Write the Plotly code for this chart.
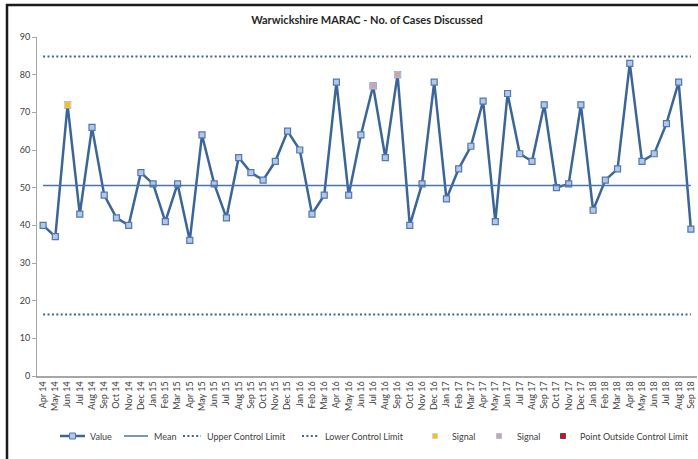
import plotly.graph_objects as go

months = ["Apr 14","May 14","Jun 14","Jul 14","Aug 14","Sep 14","Oct 14","Nov 14","Dec 14","Jan 15","Feb 15","Mar 15",
          "Apr 15","May 15","Jun 15","Jul 15","Aug 15","Sep 15","Oct 15","Nov 15","Dec 15","Jan 16","Feb 16","Mar 16",
          "Apr 16","May 16","Jun 16","Jul 16","Aug 16","Sep 16","Oct 16","Nov 16","Dec 16","Jan 17","Feb 17","Mar 17",
          "Apr 17","May 17","Jun 17","Jul 17","Aug 17","Sep 17","Oct 17","Nov 17","Dec 17","Jan 18","Feb 18","Mar 18",
          "Apr 18","May 18","Jun 18","Jul 18","Aug 18","Sep 18"]
values = [40,37,72,43,66,48,42,40,54,51,41,51,
          36,64,51,42,58,54,52,57,65,60,43,48,
          78,48,64,77,58,80,40,51,78,47,55,61,
          73,41,75,59,57,72,50,51,72,44,52,55,
          83,57,59,67,78,39]
mean_value = 50.6
upper_limit = 84.8
lower_limit = 16.3
signal_yellow = {"Jun 14": 72}
signal_pink = {"Jul 16": 77, "Sep 16": 80}
outside_limit = {}
series_names = ["Value", "Mean", "Upper Control Limit", "Lower Control Limit",
                "Signal", "Signal", "Point Outside Control Limit"]

n = len(months)
line_col = "#3B6597"
mean_col = "#4A74A8"
dot_dash = "2px,2.4px"
font = "Lato, 'Open Sans', sans-serif"

# plot area in page pixels
PL, PR, PT, PB = 37, 697, 37, 376
W, H = PR - PL, PB - PT

def px(x):
    return (x - PL) / W

def py(y):
    return (PB - y) / H

def pick(d):
    return [d.get(m) for m in months]

styles = [
    dict(mode="lines+markers", line=dict(color=line_col, width=2.5),
         marker=dict(symbol="square", size=6, color="#B4C7E7", line=dict(color="#4F78B0", width=1.2))),
    dict(mode="lines", line=dict(color=mean_col, width=1.5)),
    dict(mode="lines", line=dict(color=line_col, width=2, dash=dot_dash)),
    dict(mode="lines", line=dict(color=line_col, width=2, dash=dot_dash)),
    dict(mode="markers", marker=dict(symbol="square", size=6, color="#FFC000", line=dict(color="#C6D3E8", width=1))),
    dict(mode="markers", marker=dict(symbol="square", size=6, color="#D4A0A8", line=dict(color="#AFC2DE", width=1))),
    dict(mode="markers", marker=dict(symbol="square", size=6, color="#FF0000", line=dict(color="#3050A0", width=1))),
]
ys = [values, [mean_value]*n, [upper_limit]*n, [lower_limit]*n,
      pick(signal_yellow), pick(signal_pink), pick(outside_limit)]

fig = go.Figure()
for name, y, st in zip(series_names, ys, styles):
    fig.add_trace(go.Scatter(x=months, y=y, name=name, showlegend=False, **st))

fig.update_layout(
    width=698, height=459,
    margin=dict(l=PL, r=698 - PR, t=PT, b=459 - PB),
    paper_bgcolor="white", plot_bgcolor="white",
    font=dict(family=font, size=9, color="#404040"),
    title=dict(text="<b>Warwickshire MARAC - No. of Cases Discussed</b>",
               x=0.5, xref="paper", y=1 - 20 / 459, yref="container", yanchor="middle",
               font=dict(size=11, color="#262626", family=font)),
    showlegend=False,
    xaxis=dict(type="category", range=[-0.5, n - 0.5], tickangle=-90,
               showline=True, linecolor="#A6A6A6", linewidth=1.5, showgrid=False,
               ticks="", tickfont=dict(size=9, color="#404040"), fixedrange=True),
    yaxis=dict(range=[0, 90], dtick=10, showline=True, linecolor="#A6A6A6", linewidth=1,
               showgrid=False, zeroline=False, ticks="outside", ticklen=4, tickcolor="#A6A6A6",
               tickfont=dict(size=9, color="#404040"), fixedrange=True),
)

# legend drawn manually (symbol x-range and text start, page pixels)
LY = 436
legend_pos = [(60, 85, 88), (124, 148, 152), (183, 201, 205), (302, 319, 323),
              (432, 438, 450), (496, 502, 515), (560, 566, 578)]
for i, (name, st, (x0, x1, tx)) in enumerate(zip(series_names, styles, legend_pos)):
    if "lines" in st["mode"]:
        ln = st["line"]
        fig.add_shape(type="line", xref="paper", yref="paper", x0=px(x0), x1=px(x1),
                      y0=py(LY), y1=py(LY),
                      line=dict(color=ln["color"], width=ln["width"], dash=ln.get("dash", "solid")))
    if "markers" in st["mode"]:
        mk = st["marker"]
        cx = (x0 + x1) / 2
        s = 3 if i == 0 else 2.5
        fig.add_shape(type="rect", xref="paper", yref="paper",
                      x0=px(cx - s), x1=px(cx + s), y0=py(LY + s), y1=py(LY - s),
                      fillcolor=mk["color"], line=dict(color=mk["line"]["color"], width=1))
    fig.add_annotation(text=name, xref="paper", yref="paper", x=px(tx), y=py(LY),
                       xanchor="left", yanchor="middle", showarrow=False,
                       font=dict(size=9, color="#404040", family=font))

fig.add_shape(type="rect", xref="paper", yref="paper",
              x0=px(7), x1=px(720), y0=py(480), y1=py(5),
              line=dict(color="#1A1A1A", width=2.5), fillcolor="rgba(0,0,0,0)", layer="above")

fig.write_html("out.html", config={"displayModeBar": False},
               post_script="document.body.style.margin='0';document.body.style.overflow='hidden';")
